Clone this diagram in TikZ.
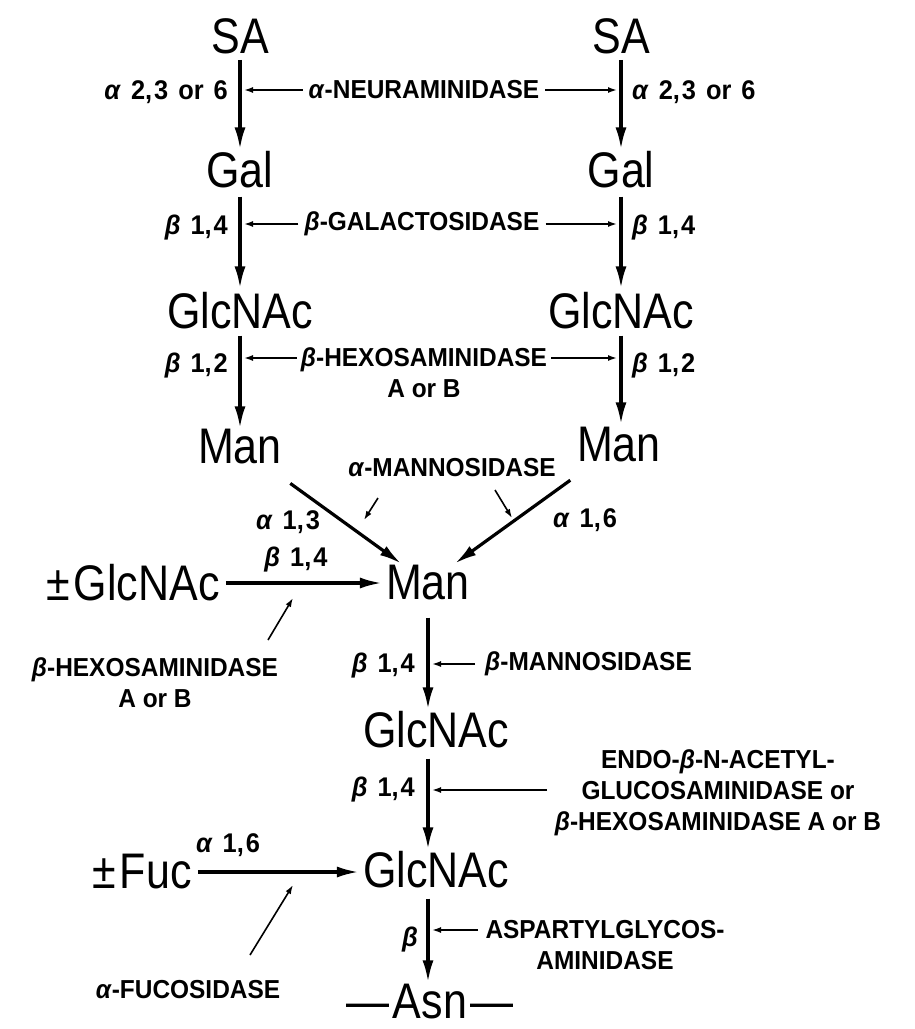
\documentclass[tikz,border=0pt]{standalone}
\usepackage{fontspec}
\setmainfont{Liberation Sans}
\newfontfamily\bigfont[FakeStretch=0.86]{Liberation Sans}
\newfontfamily\labfont[FakeStretch=0.94]{Liberation Sans}
\usetikzlibrary{arrows.meta}
\newcommand\galpha{\textit{α}}
\newcommand\gbeta{\textit{β}}
\newcommand\wsk{\hspace{10pt}}
\begin{document}
\begin{tikzpicture}[x=1pt,y=-1pt,
  sugar/.style={font=\bigfont\fontsize{50}{56}\selectfont, inner sep=0pt},
  lab/.style={font=\labfont\bfseries\fontsize{26}{30}\selectfont, inner sep=0pt},
  lnk/.style={font=\labfont\bfseries\fontsize{27}{31}\selectfont, inner sep=0pt},
  link/.style={line width=3.2pt, -{Latex[length=22pt,width=11pt]}},
  ptr/.style={line width=1.6pt, -{Latex[length=9pt,width=6pt]}}]
\fill[white] (0,0) rectangle (915,1029);
\useasboundingbox (0,0) rectangle (915,1029);

% sugars
\node[sugar] (saL) at (240,36) {SA};
\node[sugar] (saR) at (621,36) {SA};
\node[sugar] (galL) at (240,170) {Gal};
\node[sugar] (galR) at (621,170) {Gal};
\node[sugar] (gnL) at (240,311) {GlcNAc};
\node[sugar] (gnR) at (621,311) {GlcNAc};
\node[sugar] (manL) at (240,447) {Man};
\node[sugar] (manR) at (619,445) {Man};
\node[sugar] (manC) at (428,583) {Man};
\node[sugar] (gnPM) at (133,583) {±\kern4pt GlcNAc};
\node[sugar] (gnC1) at (436,730) {GlcNAc};
\node[sugar] (fuc) at (142,872) {±\kern4pt Fuc};
\node[sugar] (gnC2) at (436,870) {GlcNAc};
\node[sugar] (asn) at (430,1002) {—\kern3pt Asn\kern3pt —};

% linkage labels
\node[lnk, anchor=east] (l1L) at (228,92) {\galpha\wsk 2,\kern2pt 3\wsk or\wsk 6};
\node[lnk, anchor=west] (l1R) at (632,92) {\galpha\wsk 2,\kern2pt 3\wsk or\wsk 6};
\node[lnk, anchor=east] (l2L) at (228,228) {\gbeta\wsk 1,\kern2pt 4};
\node[lnk, anchor=west] (l2R) at (632,228) {\gbeta\wsk 1,\kern2pt 4};
\node[lnk, anchor=east] (l3L) at (228,366) {\gbeta\wsk 1,\kern2pt 2};
\node[lnk, anchor=west] (l3R) at (632,366) {\gbeta\wsk 1,\kern2pt 2};
\node[lnk] (l13) at (288,522) {\galpha\wsk 1,\kern2pt 3};
\node[lnk] (l16) at (585,520) {\galpha\wsk 1,\kern2pt 6};
\node[lnk] (l14a) at (296,560) {\gbeta\wsk 1,\kern2pt 4};
\node[lnk, anchor=east] (l14b) at (415,666) {\gbeta\wsk 1,\kern2pt 4};
\node[lnk, anchor=east] (l14c) at (415,790) {\gbeta\wsk 1,\kern2pt 4};
\node[lnk] (l16f) at (228,845) {\galpha\wsk 1,\kern2pt 6};
\node[lnk, anchor=east] (lb) at (418,940) {\gbeta};

% enzymes
\node[lab] (neur) at (424,90) {\galpha-NEURAMINIDASE};
\node[lab] (gala) at (422,224) {\gbeta-GALACTOSIDASE};
\node[lab, align=center] (hexa) at (424,373) {\gbeta-HEXOSAMINIDASE\\[1pt]A or B};
\node[lab] (mann) at (452,468) {\galpha-MANNOSIDASE};
\node[lab, align=center] (hexb) at (155,683) {\gbeta-HEXOSAMINIDASE\\[1pt]A or B};
\node[lab, anchor=west] (bman) at (485,664) {\gbeta-MANNOSIDASE};
\node[lab, align=center] (endo) at (718,793) {ENDO-\gbeta-N-ACETYL-\\[1pt]GLUCOSAMINIDASE or\\[1pt]\gbeta-HEXOSAMINIDASE A or B};
\node[lab, align=center] (aspa) at (605,945) {ASPARTYLGLYCOS-\\[1pt]AMINIDASE};
\node[lab] (fucase) at (188,990) {\galpha-FUCOSIDASE};

% main links
\draw[link, shorten <=6pt, shorten >=2pt] (saL) -- (galL);
\draw[link, shorten <=6pt, shorten >=2pt] (saR.south) -- (saR.south |- galR.north);
\draw[link, shorten <=8pt, shorten >=4pt] (galL) -- (gnL);
\draw[link, shorten <=8pt, shorten >=4pt] (galR) -- (gnR);
\draw[link, shorten <=6pt, shorten >=1pt] (gnL) -- (manL);
\draw[link, shorten <=6pt, shorten >=3pt] (gnR.south) -- (gnR.south |- manR.north);
\draw[link, shorten <=32pt, shorten >=3pt] (manL) -- (manC);
\draw[link, shorten <=30pt, shorten >=3pt] (manR) -- (manC);
\draw[link, shorten <=6pt, shorten >=4pt] (gnPM.east) -- (manC.west);
\draw[link, shorten <=17pt, shorten >=2pt] (manC.south) -- (manC.south |- gnC1.north);
\draw[link, shorten <=10pt, shorten >=2pt] (gnC1.south -| manC) -- (manC |- gnC2.north);
\draw[link, shorten <=6pt, shorten >=4pt] (fuc.east) -- (fuc.east -| gnC2.west);
\draw[link, shorten <=10pt, shorten >=2pt] (gnC2.south -| manC) -- (manC |- asn.north);

% enzyme pointers
\draw[ptr, shorten <=6pt, shorten >=4pt] (neur.west) -- (neur.west -| saL);
\draw[ptr, shorten <=6pt, shorten >=4pt] (neur.east) -- (neur.east -| saR);
\draw[ptr, shorten <=6pt, shorten >=4pt] (gala.west) -- (gala.west -| galL);
\draw[ptr, shorten <=6pt, shorten >=4pt] (gala.east) -- (gala.east -| galR);
\coordinate (hw) at ([yshift=15pt]hexa.west);
\coordinate (he) at ([yshift=15pt]hexa.east);
\draw[ptr, shorten <=4pt, shorten >=4pt] (hw) -- (hw -| gnL);
\draw[ptr, shorten <=4pt, shorten >=4pt] (he) -- (he -| gnR);
\coordinate (m1) at (378,498);
\coordinate (m2) at (364,520);
\coordinate (m3) at (495,490);
\coordinate (m4) at (512,518);
\draw[ptr] (m1) -- (m2);
\draw[ptr] (m3) -- (m4);
\coordinate (h1) at (268,640);
\coordinate (h2) at (293,598);
\draw[ptr] (h1) -- (h2);
\draw[ptr, shorten <=10pt, shorten >=4pt] (bman.west) -- (bman.west -| manC);
\coordinate (e1) at (547,790);
\draw[ptr, shorten >=4pt] (e1) -- (e1 -| manC);
\coordinate (a1) at (478,930);
\draw[ptr, shorten >=4pt] (a1) -- (a1 -| manC);
\coordinate (f1) at (250,955);
\coordinate (f2) at (293,885);
\draw[ptr] (f1) -- (f2);
\end{tikzpicture}
\end{document}
